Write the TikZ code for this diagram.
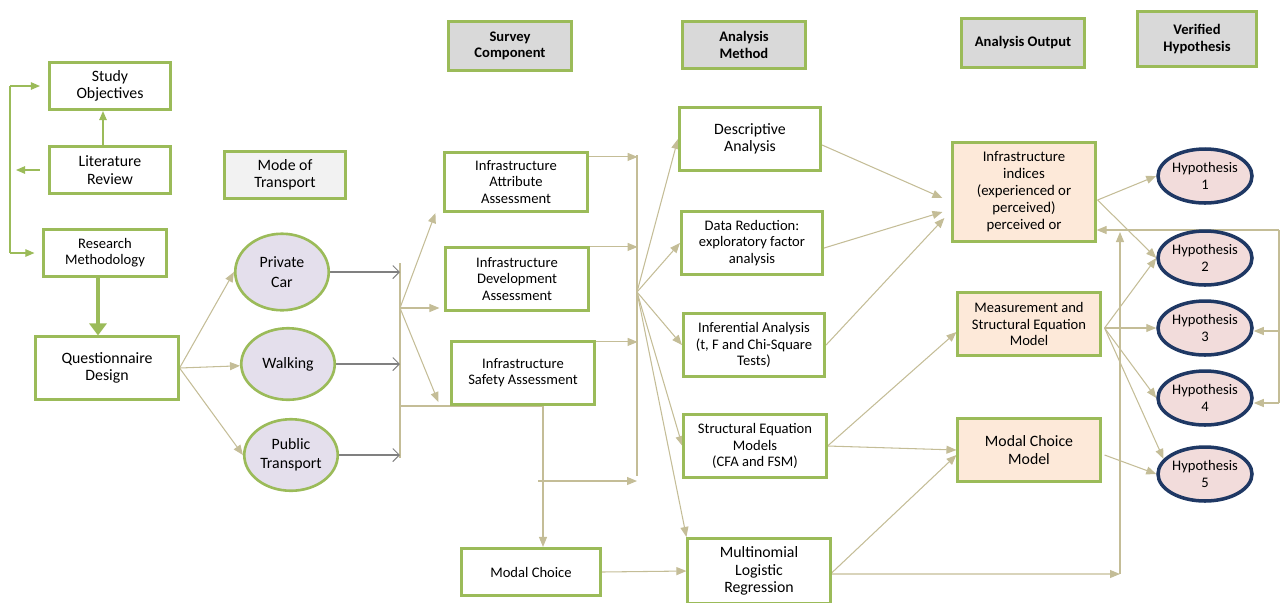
\documentclass[tikz,border=0pt]{standalone}
\usepackage{fontspec}
\setmainfont{Carlito}
\usetikzlibrary{arrows.meta,shapes.geometric,backgrounds}

\definecolor{boxgreen}{HTML}{9BBB59}
\definecolor{linetan}{HTML}{C4BD97}
\definecolor{headgray}{HTML}{D9D9D9}
\definecolor{modegray}{HTML}{F2F2F2}
\definecolor{modelav}{HTML}{E4DFEC}
\definecolor{outpeach}{HTML}{FDE9D9}
\definecolor{hyppink}{HTML}{F2DCDB}
\definecolor{hypnavy}{HTML}{1F3864}
\definecolor{arrgray}{HTML}{808080}

\tikzset{
  box/.style={draw=boxgreen,line width=1.5pt,fill=white,align=center,inner sep=1pt,font=\fontsize{9}{9.8}\selectfont},
  sbox/.style={box,font=\fontsize{8.3}{9.2}\selectfont},
  head/.style={box,fill=headgray,font=\bfseries\fontsize{8.3}{9.2}\selectfont},
  outbox/.style={box,fill=outpeach},
  mode/.style={ellipse,draw=boxgreen,line width=1.5pt,fill=modelav,align=center,inner sep=0pt,minimum width=18.7mm,minimum height=15.3mm,font=\fontsize{9}{11}\selectfont},
  hyp/.style={ellipse,draw=hypnavy,line width=2pt,fill=hyppink,align=center,inner sep=0pt,minimum width=18.8mm,minimum height=10.8mm,font=\fontsize{8.3}{10}\selectfont},
  con/.style={draw=linetan,line width=0.6pt},
  arr/.style={con,-{Triangle[length=2mm,width=1.6mm]}},
  garr/.style={draw=arrgray,line width=0.6pt,-{Straight Barb[length=1.3mm,width=2.6mm]}},
  lnk/.style={draw=boxgreen,line width=0.6pt,-{Triangle[length=1.8mm,width=1.5mm]}},
}

\begin{document}
\begin{tikzpicture}[x=0.2mm,y=-0.2mm]
\useasboundingbox (0,0) rectangle (1280,602);

% headers
\node[head,minimum width=24.7mm,minimum height=9.7mm] (sc) at (510,46) {Survey\\Component};
\node[head,minimum width=24.5mm,minimum height=9.5mm] (am) at (744,45) {Analysis\\Method};
\node[head,minimum width=24.5mm,minimum height=9.7mm] (ao) at (1023,43) {Analysis Output};
\node[head,minimum width=23.7mm,minimum height=11.1mm] (vh) at (1197,39) {Verified\\Hypothesis};

% research design
\node[box,minimum width=24.3mm,minimum height=9.5mm] (so) at (110,86) {Study\\Objectives};
\node[box,minimum width=24.3mm,minimum height=9.5mm] (lit) at (110,170) {Literature\\Review};
\node[sbox,minimum width=24.5mm,minimum height=9.3mm] (rm) at (105,253) {Research\\Methodology};
\node[box,minimum width=28.5mm,minimum height=12.5mm] (qd) at (107,368) {Questionnaire\\Design};
\node[box,fill=modegray,minimum width=24.3mm,minimum height=9.3mm] (mot) at (285,175) {Mode of\\Transport};

% modes
\node[mode] (pc) at (282,272) {Private\\Car};
\node[mode,minimum height=14.3mm] (wk) at (288,364) {Walking};
\node[mode,minimum height=14.3mm] (pt) at (291,455) {Public\\Transport};

% survey component
\node[sbox,minimum width=28.5mm,minimum height=11.9mm] (att) at (516,182) {Infrastructure\\Attribute\\Assessment};
\node[sbox,minimum width=28.5mm,minimum height=12.7mm] (dev) at (517,279) {Infrastructure\\Development\\Assessment};
\node[sbox,minimum width=28.5mm,minimum height=12.7mm] (saf) at (523,373) {Infrastructure\\Safety Assessment};
\node[sbox,minimum width=27.9mm,minimum height=9.5mm] (mc) at (531,572) {Modal Choice};

% analysis method
\node[box,minimum width=28.3mm,minimum height=12.7mm] (da) at (750,139) {Descriptive\\Analysis};
\node[sbox,minimum width=28.3mm,minimum height=12.5mm] (dr) at (752,243) {Data Reduction:\\exploratory factor\\analysis};
\node[sbox,minimum width=28.3mm,minimum height=12.7mm] (ia) at (754,345) {Inferential Analysis\\(t, F and Chi-Square\\Tests)};
\node[sbox,minimum width=28.5mm,minimum height=12.7mm] (sem) at (755,446) {Structural Equation\\Models\\(CFA and FSM)};
\node[box,minimum width=28.5mm,minimum height=13.1mm] (mlr) at (759,571) {Multinomial\\Logistic\\Regression};

% analysis output
\node[outbox,font=\fontsize{8.4}{9.7}\selectfont,minimum width=28.5mm,minimum height=19.9mm] (ind) at (1024,192) {Infrastructure\\indices\\(experienced or\\perceived)\\perceived or};
\node[outbox,font=\fontsize{8.3}{9.2}\selectfont,minimum width=28.5mm,minimum height=12.7mm] (mes) at (1029,324) {Measurement and\\Structural Equation\\Model};
\node[outbox,minimum width=28.5mm,minimum height=12.7mm] (mcm) at (1029,450) {Modal Choice\\Model};

% hypotheses
\foreach \i/\y in {1/176,2/258,3/328,4/398,5/474}
  \node[hyp] (h\i) at (1205,\y) {Hypothesis\\\i};

\begin{scope}[on background layer]
\coordinate (lp1) at (10,86);
\coordinate (lp2) at (10,253);
\coordinate (lp3) at (16,170);
\draw[lnk] ([xshift=-1.6mm]lit.west) -- (lp3);
\draw[boxgreen,line width=0.6pt] (lp1) -- (lp2);
\draw[lnk,shorten >=1.6mm] (lp1) -- (so.west);
\draw[lnk,shorten >=1.6mm] (lp2) -- (rm.west);
\draw[lnk] ([xshift=-1.4mm]lit.north) -- ([xshift=-1.4mm]so.south);
\draw[boxgreen,line width=2.6pt,-{Triangle[length=2.4mm,width=3.4mm]}] ([xshift=-1.4mm]rm.south) -- ([xshift=-1.4mm]rm.south |- qd.north);

\draw[arr] (qd.east) -- (pc.west);
\draw[arr] (qd.east) -- (wk);
\draw[arr] (qd.east) -- (pt.west);

\coordinate (mtop) at (400,263);
\coordinate (mbot) at (400,458);
\draw[con] (mtop) -- (mbot);
\draw[garr] (pc.east) -- (pc.east -| mtop);
\draw[garr] (wk.east) -- (wk.east -| mtop);
\draw[garr] (pt.east) -- (pt.east -| mtop);

\coordinate (sj) at (400,308);
\draw[arr] (sj) -- ([shift={(-8,0)}]att.south west);
\draw[arr,shorten >=1mm] (sj) -- (dev.west |- sj);
\draw[arr] (sj) -- ([shift={(-12,-4)}]saf.south west);

\coordinate (sk) at (543,406);
\draw[con] (sk -| mtop) -- (sk);
\draw[arr] (sk) -- (sk |- mc.north);

\coordinate (atop) at (637,155);
\coordinate (abot) at (637,476);
\coordinate (mcj) at (538,481);
\draw[con] (atop) -- (abot);
\draw[arr] ([yshift=-1.2mm]att.north east) -- ++(49,0);
\draw[arr] ([yshift=-0.2mm]dev.north east) -- ++(48,0);
\draw[arr] ([yshift=-0.4mm]saf.north east) -- ++(42,0);
\draw[arr] (mcj) -- (mcj -| atop);

\coordinate (aj) at (637,292);
\foreach \n in {da,dr,ia,sem}
  \draw[arr] (aj) -- (\n.west);
\draw[arr] (aj) -- (mlr.north west);
\draw[arr] (mc.east) -- (mlr.west);

\draw[arr] ([yshift=-1.2mm]da.east) -- ([shift={(-9,6)}]ind.west);
\draw[arr] ([yshift=-1mm]dr.east) -- ([shift={(-9,20)}]ind.west);
\draw[arr] (ia.east) -- ([shift={(-7,26)}]ind.west);
\draw[arr] (sem.east) -- ([shift={(0,8)}]mes.west);
\draw[arr] (sem.east) -- (mcm.west);
\draw[arr] ([yshift=-0.4mm]mlr.east) -- ([shift={(0,5)}]mcm.west);

\coordinate (fb) at (1120,574);
\coordinate (fbt) at (1120,232);
\draw[arr] ([yshift=-0.6mm]mlr.east) -- (fb);
\draw[arr] (fb) -- (fbt);

\coordinate (rt) at (1279,230);
\coordinate (r3) at (1279,331);
\coordinate (rb) at (1279,403);
\draw[con] (rt) -- (rb);
\draw[arr] (rt) -- (rt -| ind.east);
\draw[arr] (r3) -- (r3 -| h3.east);
\draw[arr] (rb) -- (rb -| h4.east);

\coordinate (ij) at ([shift={(1,8)}]ind.east);
\draw[arr] (ij) -- (h1.west);
\draw[arr] (ij) -- (h2.west);
\coordinate (mj) at ([shift={(3,4)}]mes.east);
\foreach \i in {2,3,4}
  \draw[arr] (mj) -- (h\i.west);
\draw[arr] (mj) -- (h5.160);
\draw[arr] ([shift={(3,5)}]mcm.east) -- (h5.west);
\end{scope}
\end{tikzpicture}
\end{document}
